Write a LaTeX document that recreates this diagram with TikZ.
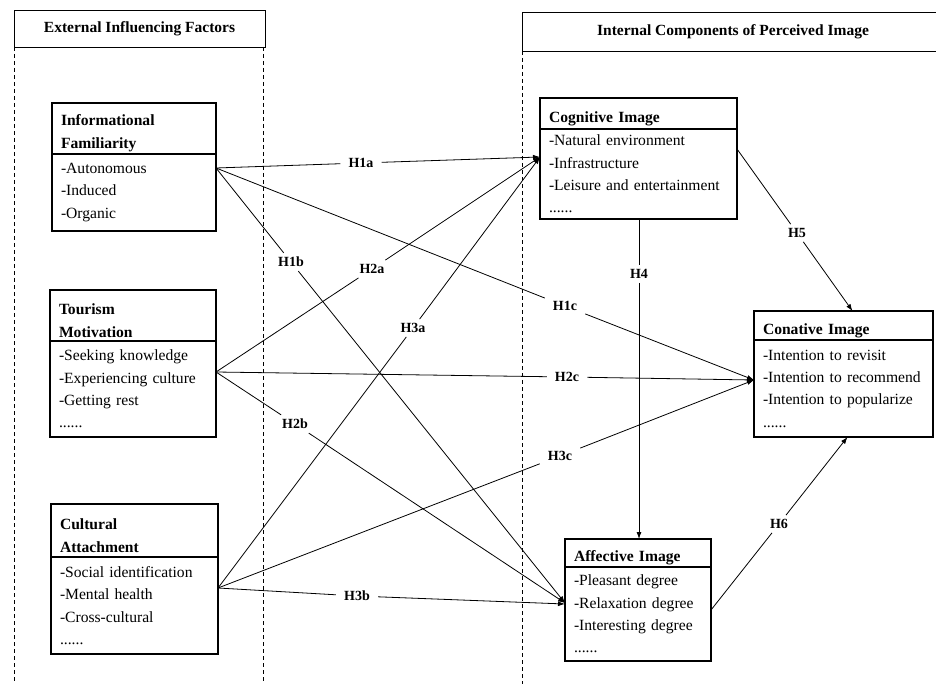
\documentclass[tikz,border=0pt]{standalone}
\usepackage{fontspec}
\setmainfont{Liberation Serif}
\usetikzlibrary{positioning,arrows.meta}

\begin{document}
\begin{tikzpicture}[x=1pt,y=1pt,
  hdr/.style={draw, line width=0.8pt, outer sep=0pt, minimum height=37, font=\fontsize{15.5}{18}\selectfont\bfseries},
  ttl/.style={draw, outer sep=0pt, align=left, inner xsep=9pt, inner ysep=0pt, font=\fontsize{15.6}{23}\selectfont\bfseries,
    execute at begin node=\rule{0pt}{21pt}},
  itm/.style={draw, outer sep=0pt, align=left, inner xsep=9pt, inner ysep=0pt, font=\fontsize{15.6}{22.3}\selectfont},
  lft/.style={line width=1.8pt},
  rgt/.style={line width=1.2pt},
  lbl/.style={inner xsep=8pt, inner ysep=4pt, font=\fontsize{14}{16}\selectfont\bfseries},
  link/.style={line width=0.8pt},
  arr/.style={-{Latex[length=7pt,width=5pt]}}]
\clip (0,0) rectangle (936,-684);
\coordinate (bot) at (0,-684);

\node[hdr, minimum width=251] (extH) at (139.5,-28.5) {External Influencing Factors};
\node[hdr, minimum width=422, minimum height=39] (intH) at (733,-31.5) {Internal Components of Perceived Image};
\draw[link, dash pattern=on 4pt off 3pt] (extH.south west) -- (extH.south west |- bot);
\draw[link, dash pattern=on 4pt off 3pt] ([xshift=-2]extH.south east) -- ([xshift=-2]extH.south east |- bot);
\draw[link, dash pattern=on 4pt off 3pt] (intH.south west) -- (intH.south west |- bot);

\node[ttl, lft, text width=146, minimum height=51, anchor=north west] (ifT) at (52,-103) {Informational\\Familiarity};
\node[itm, lft, text width=146, minimum height=77, below=0pt of ifT] (ifB) {-Autonomous\\-Induced\\-Organic};

\node[ttl, lft, text width=148, minimum height=51, anchor=north west] (tmT) at (50,-290) {Tourism\\Motivation};
\node[itm, lft, text width=148, minimum height=96, below=0pt of tmT] (tmB) {-Seeking knowledge\\-Experiencing culture\\-Getting rest\\......};

\node[ttl, lft, text width=149, minimum height=53, anchor=north west] (caT) at (51,-504) {Cultural\\Attachment};
\node[itm, lft, text width=149, minimum height=97, below=0pt of caT] (caB) {-Social identification\\-Mental health\\-Cross-cultural\\......};

\node[ttl, rgt, text width=179, minimum height=31, anchor=north west] (cogT) at (540,-98) {Cognitive Image};
\node[itm, rgt, text width=179, minimum height=90, below=0pt of cogT] (cogB) {-Natural environment\\-Infrastructure\\-Leisure and entertainment\\......};

\node[ttl, rgt, text width=161, minimum height=29, anchor=north west] (conT) at (754,-311) {Conative Image};
\node[itm, rgt, text width=161, minimum height=97, below=0pt of conT] (conB) {-Intention to revisit\\-Intention to recommend\\-Intention to popularize\\......};

\node[ttl, rgt, text width=128, minimum height=28, anchor=north west] (affT) at (565,-539) {Affective Image};
\node[itm, rgt, text width=128, minimum height=94, below=0pt of affT] (affB) {-Pleasant degree\\-Relaxation degree\\-Interesting degree\\......};

\coordinate (ifOut) at ([yshift=-14]ifB.north east);
\coordinate (tmOut) at ([yshift=-31]tmB.north east);
\coordinate (caOut) at ([yshift=-31]caB.north east);
\coordinate (cogIn) at ([yshift=-28]cogB.north west);
\coordinate (conIn) at ([yshift=-40]conB.north west);
\coordinate (affIn) at ([yshift=-36]affB.north west);

\node[lbl] (h1a) at (361,-163) {H1a};
\node[lbl] (h1b) at (291,-262) {H1b};
\node[lbl] (h1c) at (565,-306) {H1c};
\node[lbl] (h2a) at (372,-269) {H2a};
\node[lbl] (h2b) at (295,-424) {H2b};
\node[lbl] (h2c) at (567,-377) {H2c};
\node[lbl] (h3a) at (413,-328) {H3a};
\node[lbl] (h3b) at (357,-596) {H3b};
\node[lbl] (h3c) at (560,-456) {H3c};
\node[lbl] (h4) at (639,-274) {H4};
\node[lbl] (h5) at (797,-233) {H5};
\node[lbl] (h6) at (779,-524) {H6};

\draw[link] (ifOut) -- (h1a);
\draw[link, arr] (h1a) -- (cogIn);
\draw[link] (ifOut) -- (h1b);
\draw[link, arr] (h1b) -- (affIn);
\draw[link] (ifOut) -- (h1c);
\draw[link, arr] (h1c) -- (conIn);
\draw[link] (tmOut) -- (h2a);
\draw[link, arr] (h2a) -- (cogIn);
\draw[link] (tmOut) -- (h2b);
\draw[link, arr] (h2b) -- (affIn);
\draw[link] (tmOut) -- (h2c);
\draw[link, arr] (h2c) -- (conIn);
\draw[link] (caOut) -- (h3a);
\draw[link, arr] (h3a) -- (cogIn);
\draw[link] (caOut) -- (h3b);
\draw[link, arr] (h3b) -- ([yshift=-1]affIn);
\draw[link] (caOut) -- (h3c);
\draw[link, arr] (h3c) -- (conIn);
\draw[link] (cogB.south -| h4) -- (h4);
\draw[link, arr] (h4) -- (affT.north -| h4);
\draw[link] ([yshift=-20]cogB.north east) -- (h5);
\draw[link, arr] (h5) -- ([xshift=9]conT.north);
\draw[link] ([yshift=4]affB.east) -- (h6);
\draw[link, arr] (h6) -- ([xshift=4]conB.south);
\end{tikzpicture}
\end{document}
